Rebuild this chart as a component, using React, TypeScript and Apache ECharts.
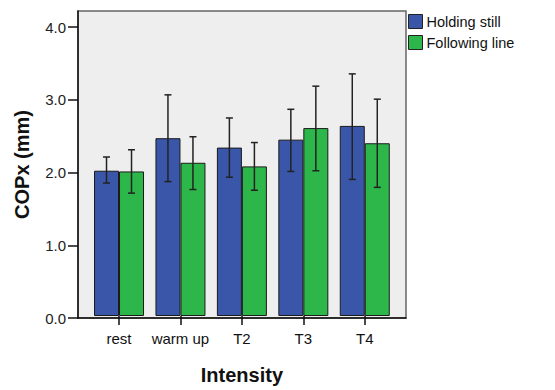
import React, { useEffect, useRef } from "react";
import * as echarts from "echarts";

const categories = ["rest", "warm up", "T2", "T3", "T4"];
const seriesNames = ["Holding still", "Following line"];
const holdingMean = [2.01, 2.46, 2.33, 2.44, 2.63];
const holdingLow = [1.84, 1.86, 1.92, 2.0, 1.89];
const holdingHigh = [2.2, 3.06, 2.74, 2.86, 3.35];
const followingMean = [2.0, 2.12, 2.07, 2.6, 2.39];
const followingLow = [1.7, 1.75, 1.74, 2.01, 1.78];
const followingHigh = [2.3, 2.48, 2.4, 3.18, 3.0];
const yTicks = [0, 1, 2, 3, 4];

const BAR_W = 25;
const FONT = "'Liberation Sans', Arial, sans-serif";

function errorSeries(name: string, low: number[], high: number[], sign: number) {
  return {
    type: "custom",
    name: name + " CI",
    xAxisIndex: 1,
    yAxisIndex: 1,
    z: 10,
    silent: true,
    encode: { x: 0, y: [1, 2] },
    data: low.map((l, i) => [i, l, high[i]]),
    renderItem: (params: any, api: any) => {
      const idx = api.value(0);
      const top = api.coord([idx, api.value(2)]);
      const bot = api.coord([idx, api.value(1)]);
      const x = top[0] + (sign * BAR_W) / 2;
      const cap = 3.5;
      const style = { stroke: "#222", lineWidth: 1.5 };
      return {
        type: "group",
        children: [
          { type: "line", shape: { x1: x, y1: top[1], x2: x, y2: bot[1] }, style },
          { type: "line", shape: { x1: x - cap, y1: top[1], x2: x + cap, y2: top[1] }, style },
          { type: "line", shape: { x1: x - cap, y1: bot[1], x2: x + cap, y2: bot[1] }, style },
        ],
      };
    },
  };
}

export default function App() {
  const ref = useRef<HTMLDivElement>(null);
  useEffect(() => {
    if (!ref.current) return;
    const chart = echarts.init(ref.current, null, { renderer: "svg" });
    const YMAX = 4.22;
    chart.setOption({
      animation: false,
      backgroundColor: "#ffffff",
      textStyle: { fontFamily: FONT },
      legend: {
        orient: "vertical",
        left: 408,
        top: 14,
        padding: 0,
        icon: "rect",
        itemWidth: 14,
        itemHeight: 14,
        itemGap: 6,
        data: seriesNames,
        textStyle: { fontSize: 14.5, color: "#111", fontFamily: FONT, padding: [0, 0, 0, -1] },
        itemStyle: { borderColor: "#222", borderWidth: 1 },
      },
      grid: [
        {
          left: 78,
          top: 11,
          width: 328,
          height: 307,
          show: true,
          backgroundColor: "#eeeeee",
          borderColor: "#666",
          borderWidth: 1.5,
        },
        { left: 88.3, top: 11, width: 307.2, height: 307 },
      ],
      xAxis: [
        {
          gridIndex: 0,
          type: "value",
          min: 0,
          max: 1,
          axisLine: { show: true, lineStyle: { color: "#111", width: 1.5 } },
          axisTick: { show: false },
          axisLabel: { show: false },
          splitLine: { show: false },
        },
        {
          gridIndex: 1,
          type: "category",
          data: categories,
          axisLine: { show: false },
          axisTick: { show: true, alignWithLabel: true, length: 9, lineStyle: { color: "#111", width: 1.5 } },
          axisLabel: { interval: 0, fontSize: 15, color: "#111", margin: 15, fontFamily: FONT },
          name: "Intensity",
          nameLocation: "middle",
          nameGap: 49,
          nameTextStyle: { fontSize: 20, fontWeight: "bold", color: "#111", fontFamily: FONT },
        },
      ],
      yAxis: [
        {
          gridIndex: 0,
          type: "value",
          min: 0,
          max: YMAX,
          axisLine: { show: true, lineStyle: { color: "#111", width: 1.5 } },
          axisTick: { show: true, length: 10, inside: false, customValues: yTicks, lineStyle: { color: "#111", width: 1.5 } },
          axisLabel: {
            fontSize: 15,
            color: "#222",
            margin: 12,
            customValues: yTicks,
            formatter: (v: number) => v.toFixed(1),
            fontFamily: FONT,
          },
          splitLine: { show: false },
          name: "COPx (mm)",
          nameLocation: "middle",
          nameGap: 46,
          nameTextStyle: { fontSize: 20, fontWeight: "bold", color: "#111", fontFamily: FONT },
        },
        {
          gridIndex: 1,
          type: "value",
          min: 0,
          max: YMAX,
          show: false,
        },
      ],
      series: [
        {
          type: "bar",
          name: seriesNames[0],
          xAxisIndex: 1,
          yAxisIndex: 1,
          data: holdingMean,
          barWidth: BAR_W,
          barGap: "0%",
          itemStyle: { color: "#3a56a9", borderColor: "#1a1a1a", borderWidth: 1 },
        },
        {
          type: "bar",
          name: seriesNames[1],
          xAxisIndex: 1,
          yAxisIndex: 1,
          data: followingMean,
          barWidth: BAR_W,
          barGap: "0%",
          itemStyle: { color: "#2db74a", borderColor: "#1a1a1a", borderWidth: 1 },
        },
        errorSeries(seriesNames[0], holdingLow, holdingHigh, -1),
        errorSeries(seriesNames[1], followingLow, followingHigh, 1),
      ],
    });
    return () => chart.dispose();
  }, []);
  return (
    <div
      ref={ref}
      style={{ position: "absolute", left: 0, top: 0, width: 555, height: 390 }}
    />
  );
}
